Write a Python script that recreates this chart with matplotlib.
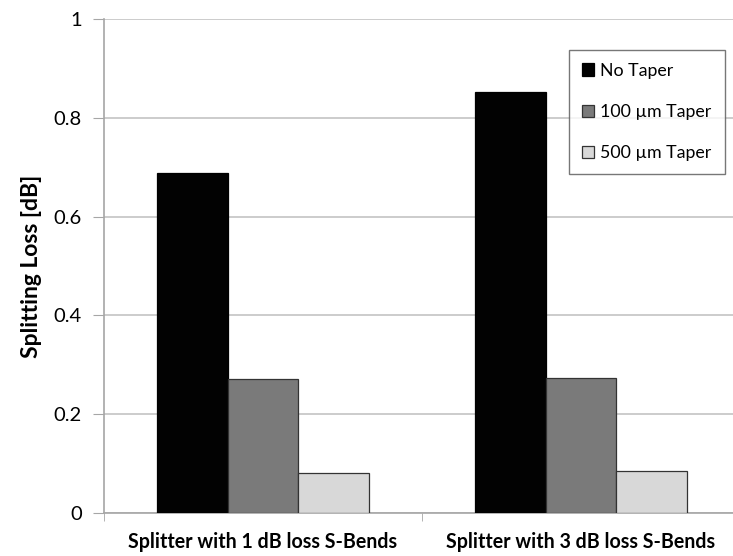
import matplotlib
matplotlib.use("Agg")
import matplotlib.pyplot as plt
import numpy as np
from matplotlib.ticker import FixedLocator

categories = ["Splitter with 1 dB loss S-Bends", "Splitter with 3 dB loss S-Bends"]
series_names = ["No Taper", "100 \u00b5m Taper", "500 \u00b5m Taper"]
no_taper = [0.689, 0.853]
taper_100um = [0.272, 0.273]
taper_500um = [0.081, 0.085]
y_ticks = [0, 0.2, 0.4, 0.6, 0.8, 1]
y_tick_labels = ["0", "0.2", "0.4", "0.6", "0.8", "1"]

plt.rcParams["font.family"] = ["Lato", "DejaVu Sans"]

fig = plt.figure(figsize=(7.33, 5.56), dpi=100)
ax = fig.add_axes([104 / 733, 1 - 513 / 556, 636 / 733, 494 / 556])

x = np.arange(len(categories))
w = 1 / 4.5
fills = ["#020202", "#7a7a7a", "#d8d8d8"]
edges = ["#000000", "#333333", "#333333"]
for i, (vals, name) in enumerate(zip([no_taper, taper_100um, taper_500um], series_names)):
    ax.bar(x + (i - 1) * w, vals, width=w, color=fills[i], edgecolor=edges[i],
           linewidth=0.9, label=name, zorder=3)

ax.set_xlim(-0.5, len(categories) - 0.5)
ax.set_ylim(0, 1)
ax.set_yticks(y_ticks)
ax.set_yticklabels(y_tick_labels)
ax.set_xticks(x)
ax.set_xticklabels(categories, fontweight="bold", fontsize=14.1)
ax.xaxis.set_minor_locator(FixedLocator(np.arange(-0.5, len(categories), 1.0)))
ax.tick_params(axis="x", which="major", length=0, pad=14)
ax.tick_params(axis="x", which="minor", length=6, color="#a6a6a6", direction="out")
ax.tick_params(axis="y", length=8, color="#a6a6a6", direction="out", pad=8,
               labelsize=14.5)
ax.grid(axis="y", color="#c4c4c4", linewidth=1.2, zorder=0)
ax.set_axisbelow(True)

for side in ["top", "right"]:
    ax.spines[side].set_visible(False)
for side in ["left", "bottom"]:
    ax.spines[side].set_color("#a6a6a6")
    ax.spines[side].set_linewidth(1.2)

ax.set_ylabel("Splitting Loss [dB]", fontweight="bold", fontsize=16.5, labelpad=8)

leg = ax.legend(loc="upper left", bbox_to_anchor=(569 / 733, 1 - 50 / 556),
                bbox_transform=fig.transFigure, frameon=True, fancybox=False,
                fontsize=12.8, handlelength=0.7, handleheight=0.7, handletextpad=0.35,
                labelspacing=1.42, borderpad=0.72, borderaxespad=0)
leg.get_frame().set_edgecolor("#555555")
leg.get_frame().set_linewidth(1.0)

fig.savefig("out.png", dpi=100)
